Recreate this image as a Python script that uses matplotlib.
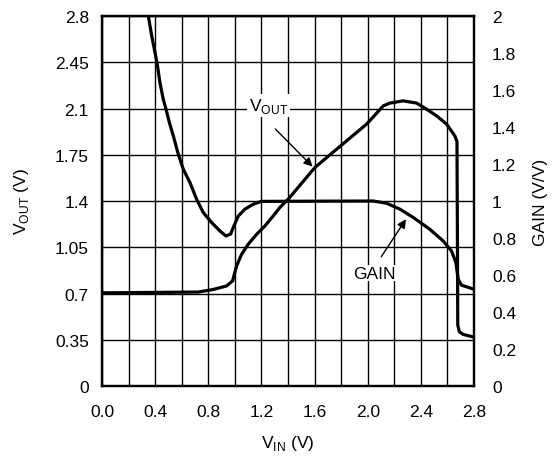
import matplotlib
matplotlib.use('Agg')
import matplotlib.pyplot as plt
import numpy as np

plt.rcParams['font.family'] = ['Liberation Sans', 'DejaVu Sans']
plt.rcParams['mathtext.fontset'] = 'custom'
plt.rcParams['mathtext.rm'] = 'Liberation Sans'

# VOUT (left axis, V) vs VIN
vin_out = [0.0, 0.725, 0.835, 0.938, 0.983, 1.013, 1.051, 1.101, 1.164, 1.226,
           1.289, 1.339, 1.402, 1.603, 1.766, 1.992, 2.117, 2.167, 2.267, 2.368,
           2.443, 2.518, 2.594, 2.656, 2.672, 2.675, 2.678, 2.69, 2.72, 2.80]
vout = [0.705, 0.711, 0.73, 0.757, 0.795, 0.908, 0.997, 1.073, 1.148, 1.211,
        1.287, 1.351, 1.414, 1.654, 1.792, 1.982, 2.12, 2.141, 2.158, 2.141,
        2.095, 2.045, 1.982, 1.893, 1.85, 1.2, 0.46, 0.41, 0.39, 0.37]

# GAIN (right axis, V/V) vs VIN
vin_gain = [0.349, 0.374, 0.399, 0.416, 0.436, 0.461, 0.482, 0.507, 0.537, 0.574,
            0.612, 0.662, 0.712, 0.762, 0.825, 0.888, 0.933, 0.968, 0.993, 1.026,
            1.076, 1.139, 1.2, 2.041, 2.142, 2.242, 2.343, 2.468, 2.568, 2.631,
            2.664, 2.681, 2.706, 2.80]
gain = [2.0, 1.894, 1.804, 1.740, 1.641, 1.551, 1.497, 1.425, 1.352, 1.254,
        1.172, 1.100, 1.010, 0.938, 0.884, 0.838, 0.811, 0.821, 0.865, 0.919,
        0.956, 0.983, 0.998, 1.0, 0.988, 0.956, 0.911, 0.847, 0.784, 0.730,
        0.667, 0.577, 0.545, 0.523]

xticks = np.round(np.arange(0, 2.81, 0.2), 2)
xlabels = ['0.0', '', '0.4', '', '0.8', '', '1.2', '', '1.6', '', '2.0', '', '2.4', '', '2.8']
yticks_l = [0, 0.35, 0.7, 1.05, 1.4, 1.75, 2.1, 2.45, 2.8]
ylabels_l = ['0', '0.35', '0.7', '1.05', '1.4', '1.75', '2.1', '2.45', '2.8']
yticks_r = np.round(np.arange(0, 2.01, 0.2), 2)
ylabels_r = ['0', '0.2', '0.4', '0.6', '0.8', '1', '1.2', '1.4', '1.6', '1.8', '2']

fs = 12.5

fig = plt.figure(figsize=(5.53, 4.60), dpi=100)
ax = fig.add_axes([0.1844, 0.1587, 0.6727, 0.8043])
ax2 = ax.twinx()

ax.set_xlim(0, 2.8)
ax.set_ylim(0, 2.8)
ax2.set_ylim(0, 2)

ax.set_xticks(xticks)
ax.set_xticklabels(xlabels)
ax.set_yticks(yticks_l)
ax.set_yticklabels(ylabels_l)
ax2.set_yticks(yticks_r)
ax2.set_yticklabels(ylabels_r)

ax.grid(True, color='black', lw=1.0)
ax.set_axisbelow(True)
ax.tick_params(axis='both', length=0, labelsize=fs)
ax.tick_params(axis='y', pad=9.5)
ax.tick_params(axis='x', pad=13)
ax2.tick_params(axis='y', length=0, labelsize=fs, pad=13)

for a in (ax, ax2):
    for s in a.spines.values():
        s.set_linewidth(1.6)

ax.plot(vin_out, vout, color='black', lw=2.3, solid_joinstyle='round')
ax2.plot(vin_gain, gain, color='black', lw=2.3, solid_joinstyle='round')

ax.set_xlabel(r'V$_{\mathregular{IN}}$ (V)', fontsize=fs, labelpad=10)
ax.set_ylabel(r'V$_{\mathregular{OUT}}$ (V)', fontsize=fs)
ax.yaxis.set_label_coords(-0.19, 0.5)
ax2.set_ylabel('GAIN (V/V)', fontsize=fs, rotation=90)
ax2.yaxis.set_label_coords(1.16, 0.5)

ax.text(1.253, 2.125, r'V$_{\mathregular{OUT}}$', ha='center', va='center', fontsize=fs,
        bbox=dict(fc='white', ec='none', pad=1.5))
ax.annotate('', xy=(1.60, 1.645), xytext=(1.29, 1.96),
            arrowprops=dict(arrowstyle='-|>', color='black', lw=1, mutation_scale=13))

ax.text(2.05, 0.853, 'GAIN', ha='center', va='center', fontsize=fs,
        bbox=dict(fc='white', ec='none', pad=0.5))
ax.annotate('', xy=(2.30, 1.28), xytext=(2.09, 0.96),
            arrowprops=dict(arrowstyle='-|>', color='black', lw=1, mutation_scale=13))

fig.savefig('out.png', dpi=100)
